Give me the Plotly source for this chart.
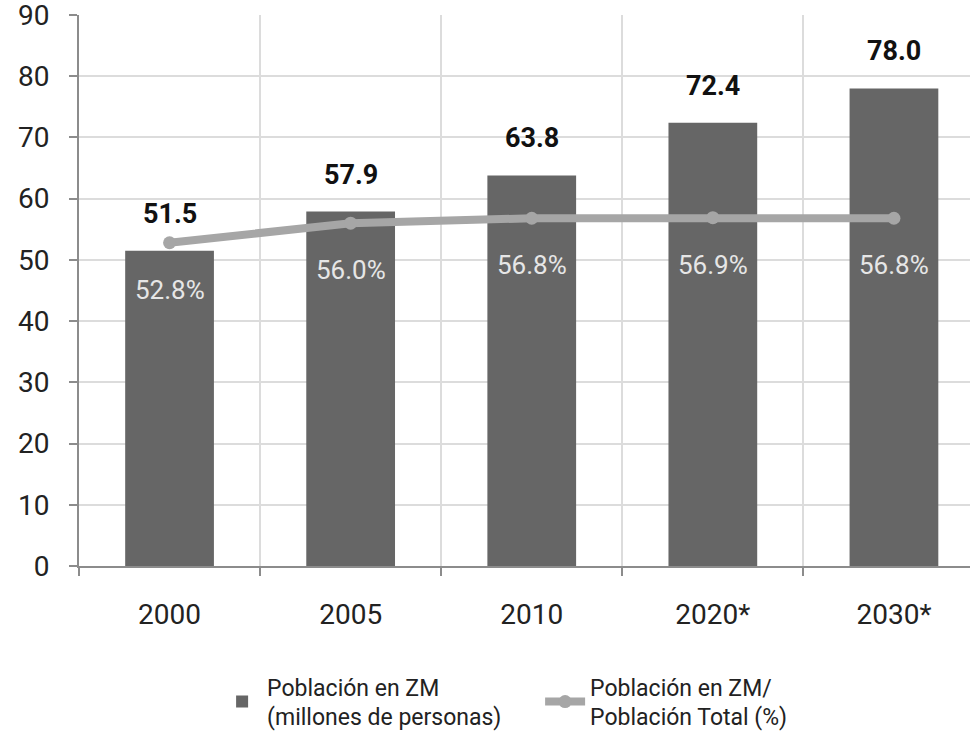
import plotly.graph_objects as go

categories = ["2000", "2005", "2010", "2020*", "2030*"]
poblacion_zm = [51.5, 57.9, 63.8, 72.4, 78.0]
porcentaje_zm = [52.8, 56.0, 56.8, 56.9, 56.8]
y_ticks = [0, 10, 20, 30, 40, 50, 60, 70, 80, 90]

FONT = "Roboto, Lato, sans-serif"
BAR_COLOR = "#666666"
LINE_COLOR = "#a6a6a6"

fig = go.Figure()
fig.add_trace(go.Bar(
    x=categories, y=poblacion_zm, width=0.49,
    marker=dict(color=BAR_COLOR, line=dict(width=0)),
    name="Población en ZM<br>(millones de personas)",
))
fig.add_trace(go.Scatter(
    x=categories, y=porcentaje_zm, mode="lines+markers",
    line=dict(color=LINE_COLOR, width=8),
    marker=dict(color=LINE_COLOR, size=13),
    name="Población en ZM/<br>Población Total (%)",
))

annotations = []
for i, v in enumerate(poblacion_zm):
    annotations.append(dict(x=i, y=v, xref="x", yref="y", text=f"<b>{v:.1f}</b>",
                            showarrow=False, yanchor="bottom", yshift=19,
                            font=dict(family=FONT, size=27, color="#111111")))
for i, p in enumerate(porcentaje_zm):
    annotations.append(dict(x=i, y=p, xref="x", yref="y", text=f"{p:.1f}%",
                            showarrow=False, yanchor="middle", yshift=-47,
                            font=dict(family=FONT, size=26, color="#e6e6e6")))

fig.update_layout(
    width=970, height=739,
    margin=dict(l=79, r=0, t=15, b=173),
    paper_bgcolor="white", plot_bgcolor="white",
    font=dict(family=FONT, size=24, color="#222222"),
    showlegend=True,
    legend=dict(orientation="h", x=0.155, xanchor="left", y=-0.18, yanchor="top",
                font=dict(family=FONT, size=23, color="#222222"),
                itemwidth=40, traceorder="normal",
                entrywidth=268, entrywidthmode="pixels"),
    annotations=annotations,
)
fig.update_xaxes(
    type="category", range=[-0.5, 4.42], tickson="boundaries",
    showgrid=True, gridcolor="#dcdcdc", gridwidth=2,
    showline=True, linecolor="#8c8c8c", linewidth=2,
    ticks="outside", ticklen=8, tickcolor="#8c8c8c", tickwidth=2,
    tickfont=dict(family=FONT, size=28, color="#222222"),
    ticklabelstandoff=22, automargin=False,
)
fig.update_yaxes(
    range=[0, 90], tickvals=y_ticks,
    showgrid=True, gridcolor="#dcdcdc", gridwidth=2,
    showline=True, linecolor="#8c8c8c", linewidth=2,
    ticks="outside", ticklen=8, tickcolor="#8c8c8c", tickwidth=2,
    tickfont=dict(family=FONT, size=28, color="#222222"),
    ticklabelstandoff=14, zeroline=False, automargin=False,
    ticklabeloverflow="allow",
)

fig.write_html("out.html", config={"displayModeBar": False},
               post_script="document.body.style.margin='0';")
